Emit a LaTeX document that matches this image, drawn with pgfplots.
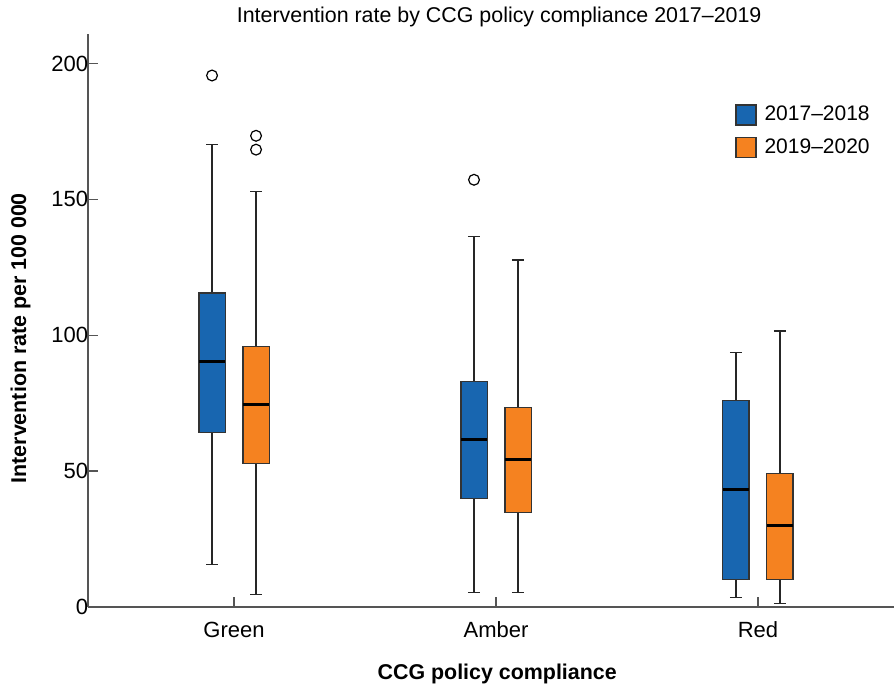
\documentclass[border=0pt]{standalone}
\usepackage{fontspec}
\setmainfont{Liberation Sans}
\usepackage{pgfplots}
\pgfplotsset{compat=1.18}
\definecolor{cblue}{HTML}{1866B0}
\definecolor{corange}{HTML}{F58220}
\definecolor{axgray}{HTML}{555555}
\begin{document}
\begin{tikzpicture}
\begin{axis}[
  scale only axis,
  width=403pt, height=286.5pt,
  xmin=-0.557, xmax=2.52,
  ymin=0, ymax=211,
  unbounded coords=jump,
  axis x line*=bottom, axis y line*=left,
  axis line style={axgray, line width=0.8pt},
  xtick={0,1,2}, xticklabels={Green,Amber,Red},
  ytick={0,50,100,150,200},
  tick style={axgray, line width=0.6pt},
  tick align=inside,
  major tick length=5pt,
  /pgf/number format/assume math mode=true,
  ticklabel style={font=\fontsize{11}{13}\selectfont},
  yticklabel style={xshift=3.5pt},
  xticklabel style={yshift=-4pt},
  title={Intervention rate by CCG policy compliance 2017–2019},
  title style={font=\fontsize{10.7}{12}\selectfont, yshift=-6pt, xshift=4pt},
  xlabel={\textbf{CCG policy compliance}},
  ylabel={\textbf{Intervention rate per 100 000}},
  label style={font=\fontsize{10.7}{12}\selectfont},
  xlabel style={yshift=-6pt, xshift=3pt},
  ylabel style={yshift=3.5pt, xshift=-9pt},
  legend style={draw=none, fill=none, at={(0.795,0.888)}, anchor=north west,
    font=\fontsize{10.5}{12}\selectfont, row sep=3.5pt,
    legend cell align=left,
    /tikz/every odd column/.append style={column sep=2pt}},
  whisk/.style={forget plot, black!85, line width=0.6pt, mark=none},
  bx/.style={forget plot, draw=black!80, line width=0.6pt, mark=none},
  med/.style={forget plot, black, line width=1.4pt, mark=none},
]
\addlegendimage{legend image code/.code={\draw[fill=cblue, draw=black!80, line width=0.6pt] (0pt,-5pt) rectangle (10pt,5pt);}}
\addlegendentry{2017–2018}
\addlegendimage{legend image code/.code={\draw[fill=corange, draw=black!80, line width=0.6pt] (0pt,-5pt) rectangle (10pt,5pt);}}
\addlegendentry{2019–2020}

% ---- whiskers (lower whisker, lower quartile, upper quartile, upper whisker)
% Green 2017-2018: 15.5, 64.2, 115.5, 170.1
\addplot[whisk] coordinates {(-0.084,15.5) (-0.084,64.2) (nan,nan) (-0.084,115.5) (-0.084,170.1) (nan,nan) (-0.107,15.5) (-0.061,15.5) (nan,nan) (-0.107,170.1) (-0.061,170.1)};
% Green 2019-2020: 4.4, 52.8, 95.9, 152.8
\addplot[whisk] coordinates {(0.084,4.4) (0.084,52.8) (nan,nan) (0.084,95.9) (0.084,152.8) (nan,nan) (0.061,4.4) (0.107,4.4) (nan,nan) (0.061,152.8) (0.107,152.8)};
% Amber 2017-2018: 5.2, 39.9, 83.0, 136.2
\addplot[whisk] coordinates {(0.916,5.2) (0.916,39.9) (nan,nan) (0.916,83.0) (0.916,136.2) (nan,nan) (0.893,5.2) (0.939,5.2) (nan,nan) (0.893,136.2) (0.939,136.2)};
% Amber 2019-2020: 5.2, 34.7, 73.4, 127.7
\addplot[whisk] coordinates {(1.084,5.2) (1.084,34.7) (nan,nan) (1.084,73.4) (1.084,127.7) (nan,nan) (1.061,5.2) (1.107,5.2) (nan,nan) (1.061,127.7) (1.107,127.7)};
% Red 2017-2018: 3.3, 10.0, 76.0, 93.7
\addplot[whisk] coordinates {(1.916,3.3) (1.916,10.0) (nan,nan) (1.916,76.0) (1.916,93.7) (nan,nan) (1.893,3.3) (1.939,3.3) (nan,nan) (1.893,93.7) (1.939,93.7)};
% Red 2019-2020: 1.1, 10.0, 49.1, 101.5
\addplot[whisk] coordinates {(2.084,1.1) (2.084,10.0) (nan,nan) (2.084,49.1) (2.084,101.5) (nan,nan) (2.061,1.1) (2.107,1.1) (nan,nan) (2.061,101.5) (2.107,101.5)};

% ---- boxes (lower quartile to upper quartile)
\addplot[bx, fill=cblue]   coordinates {(-0.134,64.2) (-0.034,64.2) (-0.034,115.5) (-0.134,115.5)} -- cycle;
\addplot[bx, fill=corange] coordinates {(0.034,52.8) (0.134,52.8) (0.134,95.9) (0.034,95.9)} -- cycle;
\addplot[bx, fill=cblue]   coordinates {(0.866,39.9) (0.966,39.9) (0.966,83.0) (0.866,83.0)} -- cycle;
\addplot[bx, fill=corange] coordinates {(1.034,34.7) (1.134,34.7) (1.134,73.4) (1.034,73.4)} -- cycle;
\addplot[bx, fill=cblue]   coordinates {(1.866,10.0) (1.966,10.0) (1.966,76.0) (1.866,76.0)} -- cycle;
\addplot[bx, fill=corange] coordinates {(2.034,10.0) (2.134,10.0) (2.134,49.1) (2.034,49.1)} -- cycle;

% ---- medians
\addplot[med] coordinates {(-0.134,90.4) (-0.034,90.4)};
\addplot[med] coordinates {(0.034,74.5) (0.134,74.5)};
\addplot[med] coordinates {(0.866,61.6) (0.966,61.6)};
\addplot[med] coordinates {(1.034,54.2) (1.134,54.2)};
\addplot[med] coordinates {(1.866,43.2) (1.966,43.2)};
\addplot[med] coordinates {(2.034,29.9) (2.134,29.9)};

% ---- outliers
\addplot[forget plot, only marks, mark=o, mark size=2.7pt, mark options={black, line width=0.6pt}]
  coordinates {(-0.084,195.6) (0.084,173.4) (0.084,168.3) (0.916,157.2)};
\end{axis}
\path[draw=none] ([xshift=-1pt]current bounding box.west) -- ([xshift=-1pt]current bounding box.west);
\end{tikzpicture}
\end{document}
